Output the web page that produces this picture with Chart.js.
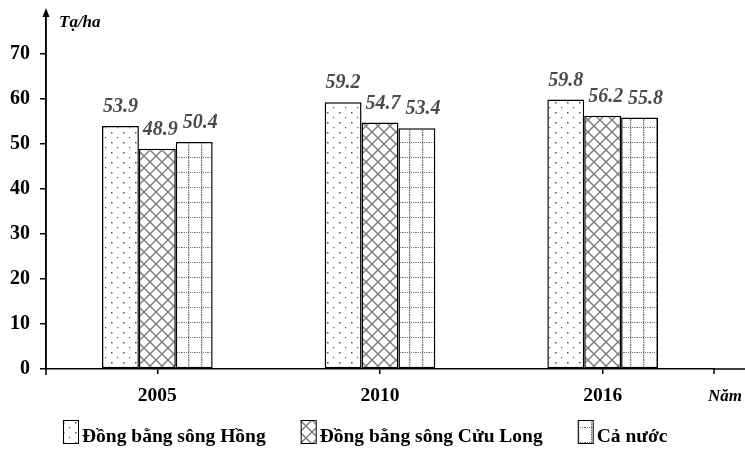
<!DOCTYPE html>
<html><head><meta charset="utf-8">
<script src="https://cdn.jsdelivr.net/npm/chart.js@4.4.1/dist/chart.umd.min.js"></script>
<style>html,body{margin:0;padding:0;background:#fff;}</style>
</head><body>
<canvas id="c" width="745" height="449"></canvas>
<script>
const categories = ['2005', '2010', '2016'];
const seriesNames = ['Đồng bằng sông Hồng', 'Đồng bằng sông Cửu Long', 'Cả nước'];
const hongValues = [53.9, 59.2, 59.8];
const cuuLongValues = [48.9, 54.7, 56.2];
const caNuocValues = [50.4, 53.4, 55.8];
const yTickValues = [0, 10, 20, 30, 40, 50, 60, 70];
const yUnit = 'Tạ/ha';
const xUnit = 'Năm';

const FONT = '"Liberation Serif", "Times New Roman", serif';

function makePattern(type) {
  const t = document.createElement('canvas');
  let w = 12, h = 12;
  if (type === 'dots') { w = 12; h = 10; }
  if (type === 'grid') { w = 13; h = 15; }
  t.width = w; t.height = h;
  const g = t.getContext('2d');
  g.fillStyle = '#fff'; g.fillRect(0, 0, w, h);
  if (type === 'dots') {
    g.fillStyle = '#555';
    g.fillRect(3, 2, 1.5, 1.5);
    g.fillRect(9, 7, 1.2, 1.2);
  } else if (type === 'cross') {
    g.strokeStyle = '#7a7a7a'; g.lineWidth = 1.4;
    g.beginPath();
    g.moveTo(-2, -2); g.lineTo(w + 2, h + 2);
    g.moveTo(w + 2, -2); g.lineTo(-2, h + 2);
    g.stroke();
  } else if (type === 'grid') {
    g.fillStyle = '#777';
    for (let x = 0; x < w; x += 2) g.fillRect(x, 7, 1, 1);
    for (let y = 0; y < h; y += 2) g.fillRect(6, y, 1.3, 1.3);
  }
  const ctx = document.getElementById('c').getContext('2d');
  return ctx.createPattern(t, 'repeat');
}

const patterns = [makePattern('dots'), makePattern('cross'), makePattern('grid')];
const seriesValues = [hongValues, cuuLongValues, caNuocValues];
const labelShift = [0, 3, 6];

const decor = {
  id: 'decor',
  afterDraw(chart) {
    const ctx = chart.ctx;
    const ca = chart.chartArea;
    const y = chart.scales.y;
    const left = ca.left, bottom = y.getPixelForValue(0);
    ctx.save();
    ctx.strokeStyle = '#000'; ctx.fillStyle = '#000'; ctx.lineWidth = 1.5;
    // y axis extension + arrow
    ctx.beginPath(); ctx.moveTo(left, 14); ctx.lineTo(left, bottom + 6); ctx.stroke();
    ctx.beginPath(); ctx.moveTo(left, 8); ctx.lineTo(left - 3.5, 17); ctx.lineTo(left + 3.5, 17); ctx.closePath(); ctx.fill();
    // x axis extension to the right + end tick
    ctx.beginPath(); ctx.moveTo(ca.right, bottom); ctx.lineTo(chart.width, bottom); ctx.stroke();
    ctx.beginPath(); ctx.moveTo(ca.right, bottom); ctx.lineTo(ca.right, bottom + 5); ctx.stroke();
    // unit labels
    ctx.font = 'italic bold 17px ' + FONT;
    ctx.textAlign = 'left'; ctx.textBaseline = 'alphabetic';
    ctx.fillText(yUnit, left + 13, 27);
    ctx.fillText(xUnit, ca.right - 6, 401);
    // data labels
    ctx.font = 'italic bold 20px ' + FONT;
    ctx.fillStyle = '#4a4a4a';
    ctx.textAlign = 'center';
    chart.data.datasets.forEach((ds, di) => {
      const meta = chart.getDatasetMeta(di);
      meta.data.forEach((bar, i) => {
        ctx.fillText(ds.data[i].toFixed(1), bar.x + labelShift[di], bar.y - 14);
      });
    });
    // legend
    ctx.font = 'bold 19.5px ' + FONT;
    ctx.textAlign = 'left';
    let lx = 63;
    chart.data.datasets.forEach((ds, di) => {
      ctx.fillStyle = ds.backgroundColor;
      ctx.fillRect(lx, 420, 15, 23);
      ctx.lineWidth = 1; ctx.strokeStyle = '#000';
      ctx.strokeRect(lx + 0.5, 420.5, 15, 23);
      ctx.fillStyle = '#000';
      ctx.fillText(ds.label, lx + 19, 442);
      lx += 19 + ctx.measureText(ds.label).width + 35;
    });
    ctx.restore();
  }
};

new Chart(document.getElementById('c'), {
  type: 'bar',
  data: {
    labels: categories,
    datasets: seriesNames.map((name, i) => ({
      label: name,
      data: seriesValues[i],
      backgroundColor: patterns[i],
      borderColor: '#000',
      borderWidth: 1.5,
      borderSkipped: false,
      categoryPercentage: 0.497,
      barPercentage: 1
    }))
  },
  options: {
    responsive: false,
    animation: false,
    layout: { padding: { left: 10, right: 31, top: 13, bottom: 40 } },
    plugins: { legend: { display: false }, tooltip: { enabled: false } },
    scales: {
      x: {
        offset: true,
        grid: { display: true, drawOnChartArea: false, offset: false, tickLength: 5, color: '#000', lineWidth: 1.5 },
        border: { display: true, color: '#000', width: 1.5 },
        ticks: { font: { family: FONT, size: 19.5, weight: 'bold' }, color: '#000', padding: 10 },
        afterFit(s) { s.height = 40; s.paddingLeft = 0; s.paddingRight = 0; }
      },
      y: {
        min: 0, max: 79,
        afterBuildTicks(s) { s.ticks = yTickValues.map(v => ({ value: v })); },
        grid: { display: true, drawOnChartArea: false, tickLength: 6, color: '#000', lineWidth: 1.5 },
        border: { display: true, color: '#000', width: 1.5 },
        ticks: { font: { family: FONT, size: 20, weight: 'bold' }, color: '#000', padding: 10 },
        afterFit(s) { s.width = 36; s.paddingTop = 0; s.paddingBottom = 0; }
      }
    }
  },
  plugins: [decor]
});
</script>
</body></html>
